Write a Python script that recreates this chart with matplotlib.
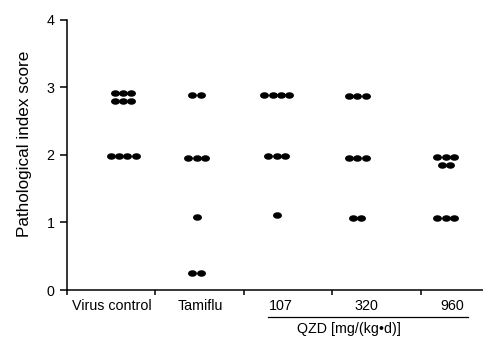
# dot plot of pathological index scores per group

import matplotlib
matplotlib.use("Agg")
import matplotlib.pyplot as plt
from matplotlib.path import Path
from matplotlib.transforms import Affine2D, blended_transform_factory

plt.rcParams['font.family'] = ['Liberation Sans', 'DejaVu Sans']

# data
groups = ["Virus control", "Tamiflu", "107", "320", "960"]
virus_control = [2.91, 2.91, 2.91, 2.80, 2.80, 2.80, 1.98, 1.98, 1.98, 1.98]
tamiflu = [2.88, 2.88, 1.96, 1.96, 1.96, 1.08, 0.25, 0.25]
qzd_107 = [2.89, 2.89, 2.89, 2.89, 1.98, 1.98, 1.98, 1.11]
qzd_320 = [2.87, 2.87, 2.87, 1.96, 1.96, 1.96, 1.07, 1.07]
qzd_960 = [1.97, 1.97, 1.97, 1.85, 1.85, 1.07, 1.07, 1.07]
yticks = [0, 1, 2, 3, 4]
ylabel = "Pathological index score"
dose_label = "QZD [mg/(kg\u2022d)]"

series = [virus_control, tamiflu, qzd_107, qzd_320, qzd_960]

# where the dots and labels sit inside each group slot
dot_centers = [0.635, 1.465, 2.37, 3.28, 4.28]
label_pos = [0.508, 1.503, 2.412, 3.379, 4.356]
spacing = 0.094

# flat ellipse marker like in the original
ellipse = Path.unit_circle().transformed(Affine2D().scale(1, 0.68))

fig = plt.figure(figsize=(4.83, 3.38), dpi=100)
ax = fig.add_axes([0.1387, 0.142, 0.916, 0.800])

for center, vals in zip(dot_centers, series):
    # spread equal values side by side
    rows = {}
    for v in vals:
        rows[v] = rows.get(v, 0) + 1
    xs, ys = [], []
    for v, n in rows.items():
        for k in range(n):
            xs.append(center + (k - (n - 1) / 2) * spacing)
            ys.append(v)
    ax.plot(xs, ys, linestyle="none", marker=ellipse, markersize=5.4,
            color="black", clip_on=False)

ax.set_xlim(0, 5)
ax.set_ylim(0, 4)
ax.set_yticks(yticks)
ax.set_xticks([0, 1, 2, 3, 4])
ax.set_xticklabels([])
ax.set_xticks(label_pos, minor=True)
ax.set_xticklabels(groups, minor=True)

for side in ["top", "right"]:
    ax.spines[side].set_visible(False)
for side in ["left", "bottom"]:
    ax.spines[side].set_linewidth(1.1)

ax.tick_params(axis="y", direction="out", length=5, width=1.1, pad=4, labelsize=10.3)
ax.tick_params(axis="x", which="major", direction="out", length=3.5, width=1.1)
ax.tick_params(axis="x", which="minor", length=0, pad=6.5, labelsize=10.3)

fig.text(25 / 483, 0.574, ylabel, rotation=90, ha="center", va="center", fontsize=12.3)

# underline and label under the QZD doses
trans = blended_transform_factory(ax.transData, fig.transFigure)
ax.plot([2.27, 4.53], [0.063, 0.063], color="black", linewidth=0.9,
        transform=trans, clip_on=False)
ax.text(3.186, 0.015, dose_label, transform=trans, ha="center", va="baseline",
        fontsize=10.3)

fig.savefig("out.png", dpi=100)
